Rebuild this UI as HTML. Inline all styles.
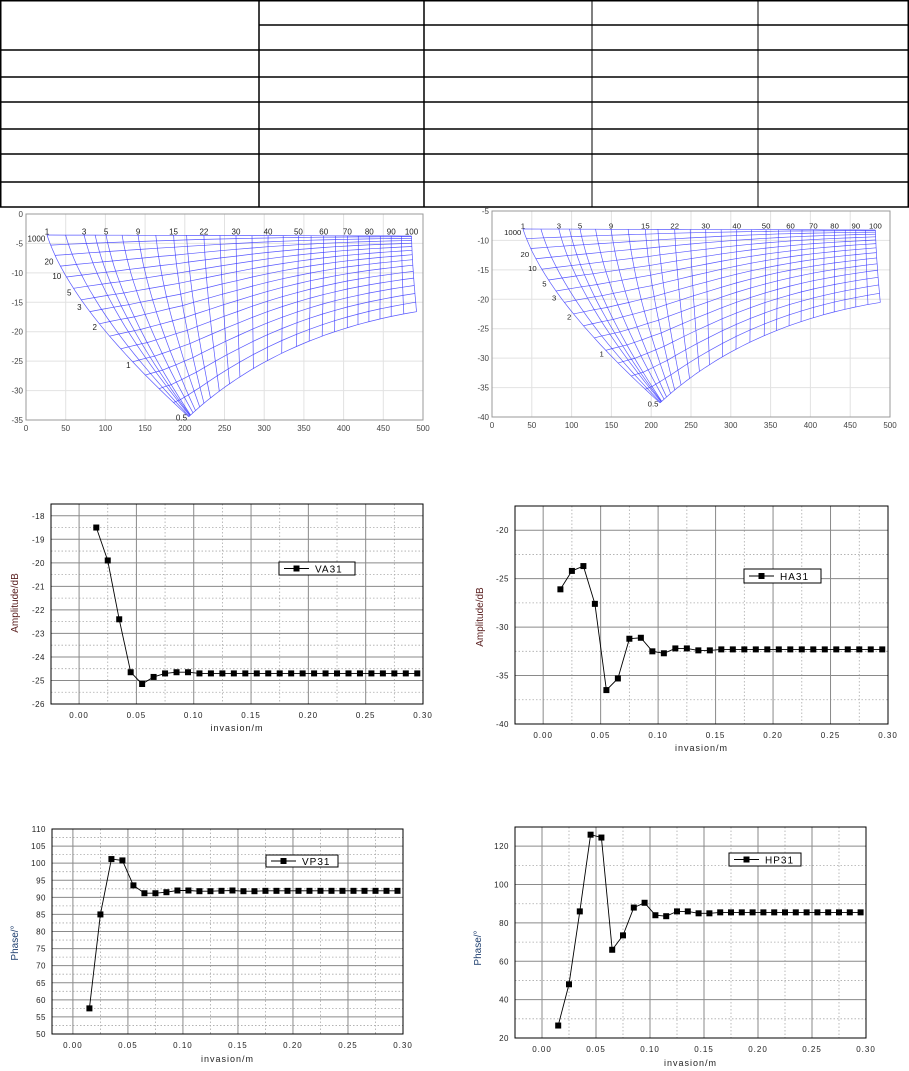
<!DOCTYPE html>
<html><head><meta charset="utf-8">
<style>
html,body{margin:0;padding:0;background:#fff;}
svg{display:block;font-family:"Liberation Sans",Arial,sans-serif;}
</style></head>
<body>
<svg id="s" width="909" height="1071" viewBox="0 0 909 1071" xmlns="http://www.w3.org/2000/svg">
<g stroke="#000" stroke-width="1.5" fill="none">
<line x1="0" y1="0.75" x2="909" y2="0.75"/>
<line x1="259" y1="25" x2="909" y2="25"/>
<line x1="0" y1="50" x2="909" y2="50"/>
<line x1="0" y1="77" x2="909" y2="77"/>
<line x1="0" y1="102" x2="909" y2="102"/>
<line x1="0" y1="129" x2="909" y2="129"/>
<line x1="0" y1="154" x2="909" y2="154"/>
<line x1="0" y1="182" x2="909" y2="182"/>
<line x1="0" y1="207" x2="909" y2="207"/>
<line x1="0.75" y1="0" x2="0.75" y2="207"/>
<line x1="259" y1="0" x2="259" y2="207"/>
<line x1="424" y1="0" x2="424" y2="207"/>
<line x1="592" y1="0" x2="592" y2="207" stroke-width="1"/>
<line x1="758" y1="0" x2="758" y2="207" stroke-width="1"/>
<line x1="908.25" y1="0" x2="908.25" y2="207"/>
</g>
<g id="g"></g>
</svg>
<script>
const NS="http://www.w3.org/2000/svg";
const G=document.getElementById('g');
function el(t,a,txt,par){const e=document.createElementNS(NS,t);for(const k in a)e.setAttribute(k,a[k]);if(txt!==undefined&&txt!==null)e.textContent=txt;(par||G).appendChild(e);return e;}
function interp(an,x){if(x<=an[0][0])return an[0][1];for(let i=1;i<an.length;i++){if(x<=an[i][0]){const a=an[i-1],b=an[i];return a[1]+(b[1]-a[1])*(x-a[0])/(b[0]-a[0]);}}return an[an.length-1][1];}

function gridFrame(o){
  const {L,R,T,B,y0,y1}=o;
  const px=x=>L+x/500*(R-L), py=y=>T+(y-y0)/(y1-y0)*(B-T);
  for(let x=50;x<500;x+=50)el('line',{x1:px(x),y1:T,x2:px(x),y2:B,stroke:'#e2e2e2','stroke-width':1});
  for(let y=y0-5;y>y1;y-=5)el('line',{x1:L,y1:py(y),x2:R,y2:py(y),stroke:'#e2e2e2','stroke-width':1});
  el('rect',{x:L,y:T,width:R-L,height:B-T,fill:'none',stroke:'#999','stroke-width':1});
  for(let x=0;x<=500;x+=50)el('text',{x:px(x),y:B+11,'font-size':8,fill:'#444','text-anchor':'middle'},String(x));
  for(let y=y0;y>=y1;y-=5)el('text',{x:L-3,y:py(y)+3,'font-size':8,fill:'#444','text-anchor':'end'},String(y));
}
function mesh(par){
  const P=(zx,zy)=>[20+zx/2.963,210+zy/3];
  const labAn=[[1,80],[3,190],[5,255],[9,350],[15,455],[22,545],[30,640],[40,735],[50,825],[60,900],[70,970],[80,1035],[90,1100],[100,1160]];
  const uAn=[[80,0],[255,0.01],[350,0.038],[455,0.0845],[545,0.166],[640,0.27],[735,0.4],[825,0.53],[970,0.74],[1100,0.908],[1160,1]];
  const bot=u=>[(1-u)*(1-u)*500+2*u*(1-u)*760+u*u*1175,(1-u)*(1-u)*620+2*u*(1-u)*375+u*u*305];
  const vals=[1,2,3,4,5,7,9,12,15,18,22,26,30,35,40,45,50,55,60,65,70,75,80,85,90,95,100];
  const lines=vals.map(v=>{const xt=interp(labAn,v);const yt=75+3*(xt-80)/1080;const b=bot(interp(uAn,xt));const xb=b[0],yb=b[1];
    const cx=xt+0.17*(xb-xt), cy=yt+0.41*(yb-yt);return {v,xt,yt,xb,yb,cx,cy,s:(xt-80)/1080};});
  const bez=(l,h)=>[(1-h)*(1-h)*l.xt+2*h*(1-h)*l.cx+h*h*l.xb,(1-h)*(1-h)*l.yt+2*h*(1-h)*l.cy+h*h*l.yb];
  const st={fill:'none',stroke:'#3b3bff','stroke-width':0.7,'stroke-opacity':0.85};
  lines.forEach(l=>{let pts=[];for(let k=0;k<=20;k++){const p=P(...bez(l,k/20));pts.push(p[0].toFixed(1)+','+p[1].toFixed(1));}
    el('polyline',Object.assign({points:pts.join(' ')},st),null,par);});
  const N=15;
  for(let j=0;j<=N;j++){const t=j/N;let pts=[];
    if(j==N){for(let k=0;k<=40;k++){const p=P(...bot(k/40));pts.push(p[0].toFixed(1)+','+p[1].toFixed(1));}}
    else lines.forEach(l=>{const h=Math.pow(t,1+0.65*l.s);const p=P(...bez(l,h));pts.push(p[0].toFixed(1)+','+p[1].toFixed(1));});
    el('polyline',Object.assign({points:pts.join(' ')},st),null,par);}
  const tx={'font-size':8,fill:'#222'};
  [1,3,5,9,15,22,30,40,50,60,70,80,90,100].forEach(v=>{const p=P(interp(labAn,v),64);el('text',Object.assign({x:p[0],y:p[1]+3,'text-anchor':'middle'},tx),String(v),par);});
  let p=P(75,85);el('text',Object.assign({x:p[0],y:p[1]+3,'text-anchor':'end'},tx),'1000',par);
  const l0=lines[0];
  [[20,0.14],[10,0.22],[5,0.31],[3,0.39],[2,0.5],[1,0.71]].forEach(([v,yf])=>{
    let h=yf;for(let it=0;it<20;it++){const q=bez(l0,h);const f=(q[1]-75)/545;h+=(yf-f)*0.8;}
    const q=bez(l0,h);const pp=P(q[0]-12,q[1]+3);el('text',Object.assign({x:pp[0],y:pp[1]+3,'text-anchor':'end'},tx),String(v),par);});
  p=P(495,622);el('text',Object.assign({x:p[0],y:p[1]+3,'text-anchor':'end'},tx),'0.5',par);
}
gridFrame({L:26,R:423,T:214,B:420,y0:0,y1:-35});
gridFrame({L:492,R:890,T:211,B:417,y0:-5,y1:-40});
mesh(el('g',{}));
mesh(el('g',{transform:'matrix(0.967 0 0 0.957 477.5 4.1)'}));

function lineChart(o){
  const {L,R,T,B,xmin,xmax,ymin,ymax}=o;
  const px=x=>L+(x-xmin)/(xmax-xmin)*(R-L), py=y=>B-(y-ymin)/(ymax-ymin)*(B-T);
  for(let x=0.025;x<0.3;x+=0.05)el('line',{x1:px(x),y1:T,x2:px(x),y2:B,stroke:'#aaa','stroke-width':0.8,'stroke-dasharray':'1.5,2'});
  for(let y=o.ys+o.ymaj/2;y<ymax;y+=o.ymaj)el('line',{x1:L,y1:py(y),x2:R,y2:py(y),stroke:'#aaa','stroke-width':0.8,'stroke-dasharray':'1.5,2'});
  for(let i=0;i<=6;i++){const x=i*0.05;el('line',{x1:px(x),y1:T,x2:px(x),y2:B,stroke:'#8a8a8a','stroke-width':1});
    el('text',{x:px(x),y:B+14,'font-size':8,fill:'#222','text-anchor':'middle','letter-spacing':'1'},x.toFixed(2));}
  for(let y=o.ys;y<=ymax+1e-9;y+=o.ymaj){el('line',{x1:L,y1:py(y),x2:R,y2:py(y),stroke:'#8a8a8a','stroke-width':1});
    el('text',{x:L-6,y:py(y)+3,'font-size':8,fill:'#222','text-anchor':'end','letter-spacing':'0.5'},String(y));}
  el('rect',{x:L,y:T,width:R-L,height:B-T,fill:'none',stroke:'#000','stroke-width':1});
  const pts=o.data.map((v,i)=>[px(0.015+0.01*i),py(v)]);
  el('polyline',{points:pts.map(p=>p[0].toFixed(1)+','+p[1].toFixed(1)).join(' '),fill:'none',stroke:'#000','stroke-width':0.9});
  pts.forEach(p=>el('rect',{x:p[0]-3,y:p[1]-3,width:6,height:6,fill:'#000'}));
  const g=o.leg;
  el('rect',{x:g.x,y:g.y,width:g.w,height:g.h,fill:'#fff',stroke:'#000','stroke-width':1});
  el('line',{x1:g.x+5,y1:g.y+g.h/2,x2:g.x+30,y2:g.y+g.h/2,stroke:'#000','stroke-width':0.9});
  el('rect',{x:g.x+14.5,y:g.y+g.h/2-3,width:6,height:6,fill:'#000'});
  el('text',{x:g.x+36,y:g.y+g.h/2+4,'font-size':10,fill:'#000','letter-spacing':'1'},g.t);
  el('text',{x:(L+R)/2,y:o.xly,'font-size':9,fill:'#222','text-anchor':'middle','letter-spacing':'1'},'invasion/m');
  el('text',{x:o.yl.x,y:o.yl.y,'font-size':10,fill:o.yl.c,'text-anchor':'middle',transform:`rotate(-90 ${o.yl.x} ${o.yl.y})`},o.yl.t);
}
const rest=(v,n)=>Array(n).fill(v);
lineChart({L:51,R:423,T:504,B:704,xmin:-0.0245,xmax:0.3,ymin:-26,ymax:-17.5,ys:-26,ymaj:1,
 data:[-18.5,-19.9,-22.4,-24.65,-25.15,-24.85,-24.7,-24.65,-24.65].concat(rest(-24.7,20)),
 leg:{x:279,y:562,w:76,h:13,t:'VA31'},xly:731,yl:{x:18,y:603,t:'Amplitude/dB',c:'#5a2020'}});
lineChart({L:515,R:888,T:506,B:724,xmin:-0.0245,xmax:0.3,ymin:-40,ymax:-17.5,ys:-40,ymaj:5,
 data:[-26.1,-24.2,-23.7,-27.6,-36.5,-35.3,-31.2,-31.1,-32.5,-32.7,-32.2,-32.2,-32.4,-32.4].concat(rest(-32.3,15)),
 leg:{x:744,y:569,w:77,h:14,t:'HA31'},xly:751,yl:{x:483,y:617,t:'Amplitude/dB',c:'#5a2020'}});
lineChart({L:52,R:403,T:829,B:1034,xmin:-0.019,xmax:0.3,ymin:50,ymax:110,ys:50,ymaj:5,
 data:[57.5,85,101.2,100.8,93.5,91.2,91.2,91.5,92,92,91.8,91.8,91.9,92,91.8,91.8].concat(rest(91.9,13)),
 leg:{x:266,y:855,w:72,h:12,t:'VP31'},xly:1062,yl:{x:18,y:943,t:'Phase/°',c:'#204070'}});
lineChart({L:515,R:866,T:827,B:1038,xmin:-0.025,xmax:0.3,ymin:20,ymax:130,ys:20,ymaj:20,
 data:[26.5,48,86,126,124.5,66,73.5,88,90.5,84,83.5,86,86,85,85].concat(rest(85.5,14)),
 leg:{x:729,y:853,w:72,h:13,t:'HP31'},xly:1066,yl:{x:481,y:948,t:'Phase/°',c:'#204070'}});
</script>
</body></html>
